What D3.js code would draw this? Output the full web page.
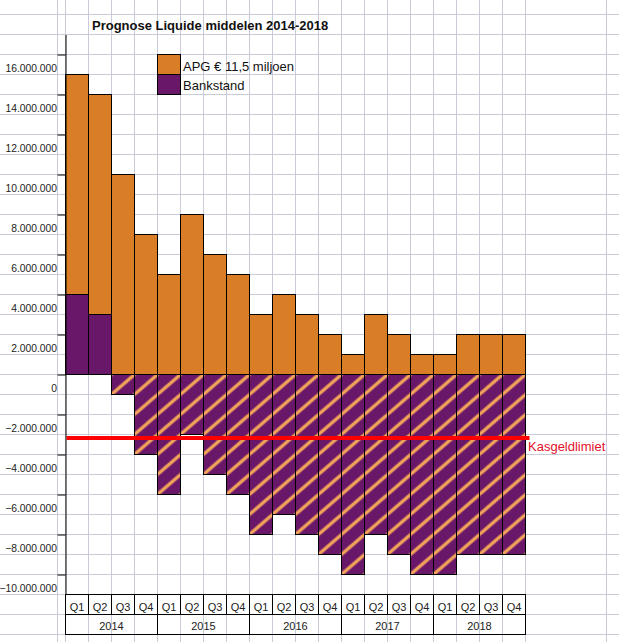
<!DOCTYPE html>
<html><head><meta charset="utf-8">
<script src="https://cdn.jsdelivr.net/npm/d3@7"></script>
<style>
body{margin:0;background:#fff}
svg{display:block}
text{font-family:Arial,"Liberation Sans",sans-serif}
</style>
</head><body><svg id="c" width="619" height="642"></svg>
<script>
// ---- data ----
const quarters = ["Q1","Q2","Q3","Q4","Q1","Q2","Q3","Q4","Q1","Q2","Q3","Q4","Q1","Q2","Q3","Q4","Q1","Q2","Q3","Q4"];
const years = ["2014","2015","2016","2017","2018"];
const apg = [11000000,11000000,10000000,7000000,5000000,8000000,6000000,5000000,3000000,4000000,3000000,2000000,1000000,3000000,2000000,1000000,1000000,2000000,2000000,2000000];
const bankstand = [4000000,3000000,-1000000,-4000000,-6000000,-3000000,-5000000,-6000000,-8000000,-7000000,-8000000,-9000000,-10000000,-8000000,-9000000,-10000000,-10000000,-9000000,-9000000,-9000000];
const kasgeldlimiet = -3170000;
const yTicks = [16000000,14000000,12000000,10000000,8000000,6000000,4000000,2000000,0,-2000000,-4000000,-6000000,-8000000,-10000000];
const seriesNames = ["APG € 11,5 miljoen","Bankstand"];
const title = "Prognose Liquide middelen 2014-2018";
const limitLabel = "Kasgeldlimiet";

// ---- styles ----
const ORANGE = "#d97e27", PURPLE = "#691769", HATCH = "#f4a55a", GRID = "#c9ccd8";

const svg = d3.select("#c");
const x = d3.scaleBand().domain(d3.range(quarters.length)).range([65.5, 525.5]).padding(0);
const y = d3.scaleLinear().domain([-11000000, 17000000]).range([594.5, 34.5]);
const bw = x.bandwidth();

const nl = d3.formatLocale({decimal:",", thousands:".", grouping:[3], currency:["€",""]});
const fmt = nl.format(",d");

// hatch pattern aligned with the cells
const defs = svg.append("defs");
const pat = defs.append("pattern").attr("id","hatch").attr("patternUnits","userSpaceOnUse")
  .attr("width", bw).attr("height", 20)
  .attr("patternTransform", `translate(${x.range()[0]},${y(0)})`);
pat.append("rect").attr("width", bw).attr("height", 20).attr("fill", PURPLE);
[[-bw,20,0,0],[0,20,bw,0],[bw,20,2*bw,0]].forEach(l=>{
  pat.append("line").attr("x1",l[0]).attr("y1",l[1]).attr("x2",l[2]).attr("y2",l[3])
    .attr("stroke",HATCH).attr("stroke-width",3.3).attr("stroke-linecap","round");
});

// spreadsheet gridlines
const grid = svg.append("g").attr("stroke", GRID).attr("stroke-width",1);
d3.range(-13, 19).forEach(v=>{
  const yy = y(v*1000000);
  grid.append("line").attr("x1",0).attr("x2",619).attr("y1",yy).attr("y2",yy);
});
const vx = [57.5, ...d3.range(quarters.length+1).map(i => x.range()[0] + i*bw), 606.5];
vx.forEach(xx=>grid.append("line").attr("x1",xx).attr("x2",xx).attr("y1",0).attr("y2",642));

// title
svg.append("text").attr("x",92).attr("y",30).attr("font-size",13).attr("font-weight","bold")
  .attr("fill","#111").text(title);

// legend
const lg = svg.append("g");
[ORANGE, PURPLE].forEach((c,i)=>{
  lg.append("rect").attr("x",157.5).attr("y",54.5+i*20).attr("width",23).attr("height",20)
    .attr("fill",c).attr("stroke","#000");
  lg.append("text").attr("x",183).attr("y",70.5+i*19.5).attr("font-size",13).attr("fill","#111").text(seriesNames[i]);
});

// stacked bars
const rows = quarters.map((q,i)=>({i, bank: bankstand[i], apg: apg[i]}));
const stack = d3.stack().keys(["bank","apg"]).offset(d3.stackOffsetDiverging);
const layers = stack(rows);
layers.forEach(layer=>{
  svg.append("g").selectAll("rect").data(layer).join("rect")
    .attr("x", d=>x(d.data.i)).attr("width", bw)
    .attr("y", d=>y(Math.max(d[0],d[1])))
    .attr("height", d=>Math.abs(y(d[0])-y(d[1])))
    .attr("fill", d=> layer.key==="apg" ? ORANGE : (d.data.bank>=0 ? PURPLE : "url(#hatch)"))
    .attr("stroke","#000").attr("stroke-width",1);
});

// y axis
const ax = svg.append("g").attr("transform","translate(65.5,0)")
  .call(d3.axisLeft(y).tickValues(yTicks).tickSize(8).tickSizeOuter(0).tickPadding(0.5).tickFormat(fmt));
ax.select(".domain").attr("stroke","#000");
ax.selectAll(".tick line").attr("stroke","#000");
ax.selectAll(".tick text").attr("y",17).attr("dy",0).attr("font-size",10.3).attr("fill","#222")
  .attr("font-family","Arial, 'Liberation Sans', sans-serif");

// kasgeldlimiet
svg.append("line").attr("x1",x.range()[0]+1).attr("x2",x.range()[1]+4)
  .attr("y1",y(kasgeldlimiet)).attr("y2",y(kasgeldlimiet)).attr("stroke","#ff0000").attr("stroke-width",4);
svg.append("text").attr("x",x.range()[1]+2.5).attr("y",y(kasgeldlimiet)+13).attr("font-size",13)
  .attr("fill","#e4102c").text(limitLabel);

// category table
const tb = svg.append("g");
quarters.forEach((q,i)=>{
  tb.append("rect").attr("x",x(i)).attr("y",594.5).attr("width",bw).attr("height",20).attr("fill","none").attr("stroke","#000");
  tb.append("text").attr("x",x(i)+bw/2).attr("y",610.5).attr("text-anchor","middle").attr("font-size",11).attr("fill","#222").text(q);
});
years.forEach((yr,j)=>{
  tb.append("rect").attr("x",x(j*4)).attr("y",614.5).attr("width",bw*4).attr("height",20).attr("fill","none").attr("stroke","#000");
  tb.append("text").attr("x",x(j*4)+bw*2).attr("y",630).attr("text-anchor","middle").attr("font-size",11).attr("fill","#222").text(yr);
});
</script>
</body></html>
